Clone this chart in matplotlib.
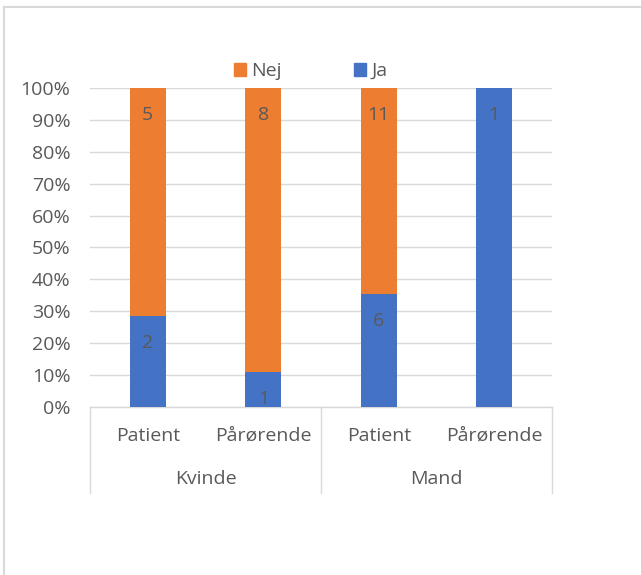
import matplotlib
matplotlib.use("Agg")
import matplotlib.pyplot as plt
import matplotlib.transforms as mtransforms
from matplotlib.lines import Line2D
from matplotlib.patches import Patch
import numpy as np

groups = ["Kvinde", "Mand"]
subgroups = ["Patient", "Pårørende"]
ja = np.array([2, 1, 6, 1])
nej = np.array([5, 8, 11, 0])

blue = "#4472C4"
orange = "#ED7D31"
text_gray = "#595959"
grid_gray = "#D9D9D9"
fs = 14

plt.rcParams["font.family"] = ["Open Sans", "DejaVu Sans"]

total = ja + nej
ja_pct = ja / total * 100
nej_pct = nej / total * 100
x = np.arange(len(ja))

fig = plt.figure(figsize=(6.41, 5.75), dpi=100)
ax = fig.add_axes([90 / 641, 1 - 407 / 575, 462 / 641, 319 / 575])

ax.bar(x, ja_pct, width=0.31, color=blue, zorder=3, label="Ja")
ax.bar(x, nej_pct, width=0.31, bottom=ja_pct, color=orange, zorder=3, label="Nej")

# labels sit just inside the top of each segment
for xi, j, jp, n, npct in zip(x, ja, ja_pct, nej, nej_pct):
    if j > 0:
        ax.annotate(str(j), (xi, jp), xytext=(0, -27), textcoords="offset pixels",
                    ha="center", va="center", color=text_gray, fontsize=fs, zorder=4)
    if n > 0:
        ax.annotate(str(n), (xi, jp + npct), xytext=(0, -27), textcoords="offset pixels",
                    ha="center", va="center", color=text_gray, fontsize=fs, zorder=4)

ax.set_xlim(-0.5, len(x) - 0.5)
ax.set_ylim(0, 100)
ax.set_yticks(np.arange(0, 101, 10))
ax.set_yticklabels([f"{v}%" for v in range(0, 101, 10)])
ax.tick_params(axis="y", length=0, pad=14, labelsize=fs, labelcolor=text_gray)
ax.set_xticks([])
ax.grid(axis="y", color=grid_gray, linewidth=1.0, zorder=0)
for side in ["left", "right", "top"]:
    ax.spines[side].set_visible(False)
ax.spines["bottom"].set_color(grid_gray)
ax.spines["bottom"].set_linewidth(1.0)

# two-level category axis
trans = mtransforms.blended_transform_factory(ax.transData, ax.transAxes)
sub_off = mtransforms.offset_copy(trans, fig=fig, y=-29, units="dots")
grp_off = mtransforms.offset_copy(trans, fig=fig, y=-72, units="dots")
for i, xi in enumerate(x):
    ax.text(xi, 0, subgroups[i % 2], transform=sub_off, ha="center", va="center",
            color=text_gray, fontsize=fs)
for g, name in enumerate(groups):
    ax.text(2 * g + 0.5, 0, name, transform=grp_off, ha="center", va="center",
            color=text_gray, fontsize=fs)
for sx in [-0.5, 1.5, 3.5]:
    ax.add_line(Line2D([sx, sx], [0, -86 / 319], transform=trans, color=grid_gray,
                       linewidth=1.0, clip_on=False))

handles = [Patch(color=orange, label="Nej"), Patch(color=blue, label="Ja")]
ax.legend(handles=handles, loc="lower center", bbox_to_anchor=(0.478, 1.0), ncol=2,
          frameon=False, handlelength=0.62, handleheight=0.62, handletextpad=0.3,
          columnspacing=3.7, fontsize=fs, labelcolor=text_gray, borderaxespad=0.0)

# chart frame
fig.add_artist(Line2D([4 / 641, 1], [1 - 7 / 575, 1 - 7 / 575], color=grid_gray, linewidth=1.5))
fig.add_artist(Line2D([4 / 641, 4 / 641], [0, 1 - 7 / 575], color=grid_gray, linewidth=1.5))

fig.savefig("out.png", dpi=100)
